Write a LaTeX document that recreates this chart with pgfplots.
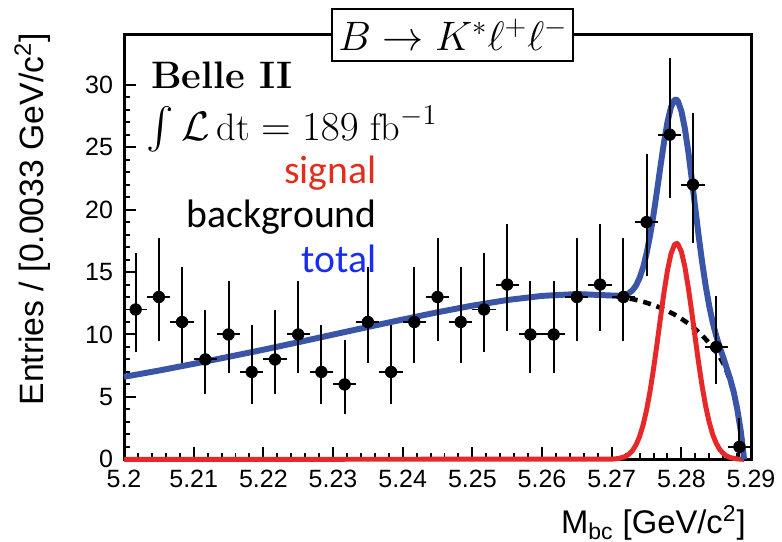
\documentclass[border=0pt]{standalone}
\usepackage{exscale}
\usepackage{pgfplots}
\usepackage{pgfplotstable}
\pgfplotsset{compat=1.18}
\usepackage{fontspec}
\newfontfamily\arial{Liberation Sans}
\newfontfamily\legfont{Carlito}
\definecolor{totblue}{RGB}{58,85,168}
\definecolor{sigred}{RGB}{232,40,40}
\definecolor{txtred}{RGB}{225,45,30}
\definecolor{txtblue}{RGB}{25,45,240}

\pgfplotstableread{
x y ex ep em
5.20167 12 0.001667 4.56 3.41
5.20500 13 0.001667 4.70 3.56
5.20833 11 0.001667 4.42 3.27
5.21167 8 0.001667 3.95 2.77
5.21500 10 0.001667 4.27 3.11
5.21833 7 0.001667 3.77 2.58
5.22167 8 0.001667 3.95 2.77
5.22500 10 0.001667 4.27 3.11
5.22833 7 0.001667 3.77 2.58
5.23167 6 0.001667 3.58 2.38
5.23500 11 0.001667 4.42 3.27
5.23833 7 0.001667 3.77 2.58
5.24167 11 0.001667 4.42 3.27
5.24500 13 0.001667 4.70 3.56
5.24833 11 0.001667 4.42 3.27
5.25167 12 0.001667 4.56 3.41
5.25500 14 0.001667 4.83 3.69
5.25833 10 0.001667 4.27 3.11
5.26167 10 0.001667 4.27 3.11
5.26500 13 0.001667 4.70 3.56
5.26833 14 0.001667 4.83 3.69
5.27167 13 0.001667 4.70 3.56
5.27500 19 0.001667 5.44 4.32
5.27833 26 0.001667 6.16 5.07
5.28167 22 0.001667 5.76 4.66
5.28500 9 0.001667 4.11 2.94
5.28833 1 0.001667 2.30 0.83
}\datatab

\pgfplotstableread{
x y
5.2000 6.61
5.2050 7.11
5.2100 7.65
5.2150 8.21
5.2200 8.78
5.2250 9.38
5.2300 9.99
5.2350 10.60
5.2400 11.20
5.2450 11.78
5.2500 12.31
5.2550 12.76
5.2600 13.09
5.2650 13.24
5.2700 13.10
5.2710 13.03
5.2720 12.94
5.2730 12.83
5.2740 12.70
5.2750 12.54
5.2760 12.35
5.2770 12.14
5.2780 11.89
5.2790 11.60
5.2800 11.26
5.2810 10.88
5.2820 10.43
5.2830 9.92
5.2840 9.31
5.2850 8.60
5.2855 8.20
5.2860 7.70
5.2865 7.05
5.2870 6.30
5.2875 5.35
5.2880 4.05
5.2885 2.35
5.2888 1.00
5.2890 0.00
}\bgtab

\pgfplotstableread{
x y
5.2000 0
5.2700 0.02
5.2710 0.07
5.2720 0.24
5.2725 0.43
5.2730 0.72
5.2735 1.17
5.2740 1.83
5.2745 2.74
5.2750 3.94
5.2755 5.45
5.2760 7.24
5.2765 9.24
5.2770 11.33
5.2775 13.35
5.2780 15.11
5.2785 16.44
5.2790 17.18
5.2793 17.30
5.2795 17.24
5.2800 16.63
5.2805 15.42
5.2810 13.73
5.2815 11.75
5.2820 9.66
5.2825 7.63
5.2830 5.79
5.2835 4.22
5.2840 2.96
5.2845 1.99
5.2850 1.29
5.2855 0.80
5.2860 0.48
5.2865 0.27
5.2870 0.15
5.2875 0.08
5.2880 0.04
5.2885 0.02
5.2890 0.00
}\sigtab

\pgfplotstableread{
x y
5.2000 6.61
5.2050 7.11
5.2100 7.65
5.2150 8.21
5.2200 8.78
5.2250 9.38
5.2300 9.99
5.2350 10.60
5.2400 11.20
5.2450 11.78
5.2500 12.31
5.2550 12.76
5.2600 13.09
5.2650 13.24
5.2700 13.12
5.2705 13.11
5.2710 13.10
5.2715 13.12
5.2720 13.18
5.2725 13.32
5.2730 13.55
5.2735 13.93
5.2740 14.53
5.2745 15.36
5.2750 16.48
5.2755 17.90
5.2760 19.59
5.2765 21.49
5.2770 23.47
5.2775 25.37
5.2780 27.00
5.2785 28.19
5.2790 28.78
5.2793 28.80
5.2795 28.68
5.2800 27.89
5.2805 26.50
5.2810 24.61
5.2815 22.41
5.2820 20.09
5.2825 17.81
5.2830 15.71
5.2835 13.85
5.2840 12.27
5.2845 10.96
5.2850 9.89
5.2855 9.00
5.2860 8.18
5.2865 7.32
5.2870 6.45
5.2875 5.43
5.2880 4.09
5.2885 2.37
5.2888 1.00
5.2890 0.00
}\tottab

\begin{document}
\begin{tikzpicture}
\begin{axis}[
  width=316pt, height=214pt, scale only axis,
  xmin=5.2, xmax=5.29, ymin=0, ymax=34,
  xtick={5.2,5.21,5.22,5.23,5.24,5.25,5.26,5.27,5.28,5.29},
  ytick={0,5,10,15,20,25,30},
  scaled x ticks=false,
  minor x tick num=4, minor y tick num=4,
  tick pos=left,
  major tick length=6pt, minor tick length=3pt,
  every tick/.style={black, line width=1pt},
  axis line style={line width=1.5pt},
  /pgf/number format/assume math mode=true,
  xticklabel style={font=\arial\fontsize{12.6}{14}\selectfont, yshift=-2pt,
     /pgf/number format/fixed, /pgf/number format/precision=2},
  yticklabel style={font=\arial\fontsize{12.6}{14}\selectfont, xshift=-2pt},
  clip=false,
]
\path (rel axis cs:-0.1978,-0.1939) rectangle (rel axis cs:1.0396,1.0818);

\addplot[black, line width=2.3pt, dash pattern=on 4pt off 3pt] table[x=x,y=y] {\bgtab};
\addplot[sigred, line width=2.5pt, line join=round] table[x=x,y=y] {\sigtab};
\addplot[totblue, line width=3pt, line join=round] table[x=x,y=y] {\tottab};
\addplot[only marks, mark=*, mark size=2.9pt, black,
  error bars/.cd, x dir=both, x explicit, y dir=both, y explicit,
  error mark=none, error bar style={line width=1pt, black}]
  table[x=x, y=y, x error=ex, y error plus=ep, y error minus=em] {\datatab};

\node[anchor=base west, inner sep=0, font=\fontsize{19.3}{22}\selectfont\bfseries]
  at (rel axis cs:0.0427,0.874) {Belle II};
\node[anchor=base west, inner sep=0, font=\fontsize{19.3}{22}\selectfont]
  at (rel axis cs:0.036,0.752) {$\int \mathcal{L}\,\mathrm{dt} = 189~\mathrm{fb}^{-1}$};
\node[anchor=base east, inner sep=0, text=txtred, font=\legfont\fontsize{20}{22}\selectfont]
  at (rel axis cs:0.4035,0.6495) {signal};
\node[anchor=base east, inner sep=0, text=black, font=\legfont\fontsize{20}{22}\selectfont]
  at (rel axis cs:0.4035,0.5467) {background};
\node[anchor=base east, inner sep=0, text=txtblue, font=\legfont\fontsize{20}{22}\selectfont]
  at (rel axis cs:0.4035,0.4393) {total};

\node[draw=black, line width=1pt, fill=white, inner sep=0,
  minimum width=121.5pt, minimum height=26pt, font=\fontsize{20}{24}\selectfont]
  at (rel axis cs:0.5245,1) {$B \rightarrow K^{*}\ell^{+}\ell^{-}$};

\node[rotate=90, anchor=south east, inner sep=0, font=\arial\fontsize{17}{19}\selectfont]
  at (rel axis cs:-0.117,1.0047) {Entries / [0.0033 GeV/c\textsuperscript{2}]};
\node[anchor=north east, inner sep=0, font=\arial\fontsize{16.5}{18}\selectfont]
  at (rel axis cs:0.992,-0.1075) {M\textsubscript{bc} [GeV/c\textsuperscript{2}]};
\end{axis}
\end{tikzpicture}
\end{document}
